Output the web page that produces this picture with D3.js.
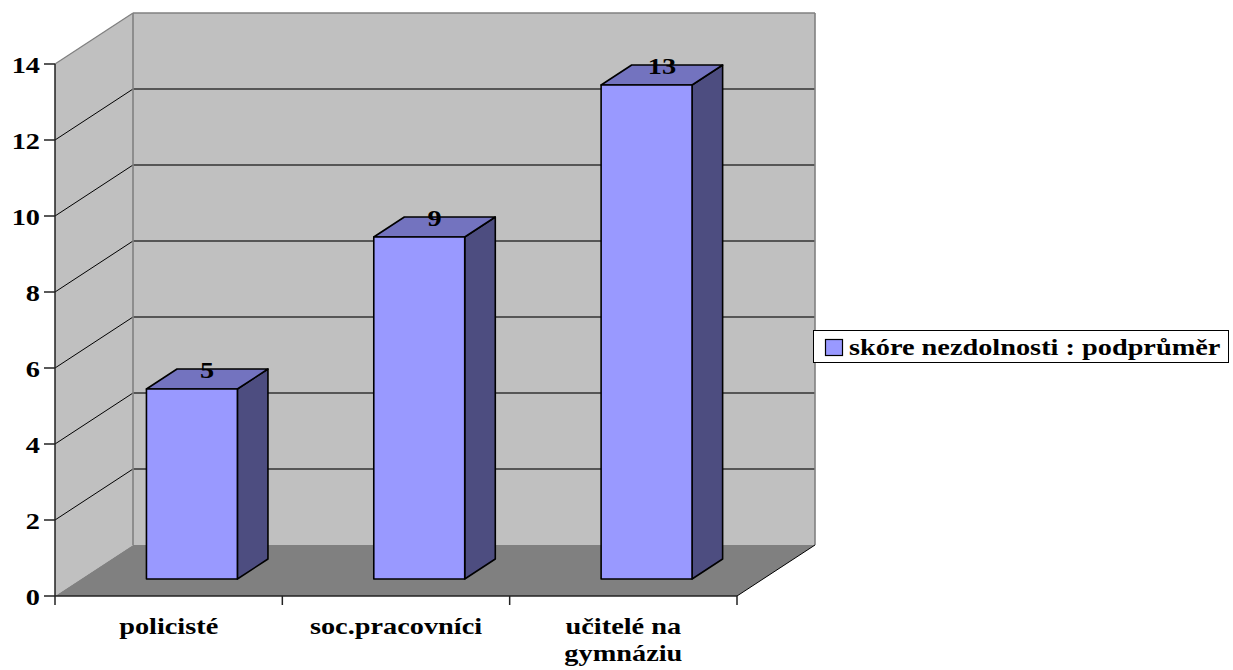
<!DOCTYPE html>
<html>
<head>
<meta charset="utf-8">
<script src="https://cdn.jsdelivr.net/npm/d3@7"></script>
<style>
  html, body { margin: 0; padding: 0; background: #ffffff; }
  svg { display: block; }
</style>
</head>
<body>
<svg id="chart" width="1233" height="670"></svg>
<script>
// Chart data
const categories = ["policisté", "soc.pracovníci", ["učitelé na", "gymnáziu"]];
const categoryKeys = ["policisté", "soc.pracovníci", "učitelé na gymnáziu"];
const values = [5, 9, 13];
const yTicks = [0, 2, 4, 6, 8, 10, 12, 14];
const seriesName = "skóre nezdolnosti : podprůměr";

const svg = d3.select("#chart");

// Plot frame: front plane and depth vector of the 3D box
const plotL = 55, plotR = 737, plotB = 596, plotT = 64;
const DX = 78, DY = 51;
const y = d3.scaleLinear().domain([0, 14]).range([plotB, plotT]);
const x = d3.scaleBand().domain(categoryKeys).range([plotL, plotR]).padding(0);

const proj = (px, v, z) => [px + z * DX, y(v) - z * DY];
const pts = arr => arr.map(p => p.join(",")).join(" ");

const FONT = "'Liberation Serif', 'Times New Roman', Times, serif";
const TEXT_SX = 1.18;
function label(g, tx, ty, str, anchor) {
  g.append("text")
    .attr("transform", `translate(${tx},${ty}) scale(${TEXT_SX},1)`)
    .attr("text-anchor", anchor)
    .attr("font-family", FONT)
    .attr("font-weight", "bold")
    .attr("font-size", 24)
    .attr("fill", "#000")
    .text(str);
}

// Walls and floor
const wallFill = "#c0c0c0", floorFill = "#808080", edge = "#808080";
svg.append("polygon")
  .attr("points", pts([proj(plotL, 14, 0), proj(plotL, 14, 1), proj(plotL, 0, 1), proj(plotL, 0, 0)]))
  .attr("fill", wallFill).attr("stroke", "none");
svg.append("polygon")
  .attr("points", pts([proj(plotL, 14, 1), proj(plotR, 14, 1), proj(plotR, 0, 1), proj(plotL, 0, 1)]))
  .attr("fill", wallFill).attr("stroke", "none");
svg.append("polygon")
  .attr("points", pts([proj(plotL, 0, 0), proj(plotL, 0, 1), proj(plotR, 0, 1), proj(plotR, 0, 0)]))
  .attr("fill", floorFill).attr("stroke", "none");

// Gridlines: back wall horizontals and side wall diagonals
const grid = svg.append("g");
yTicks.filter(t => t > 0 && t < 14).forEach(t => {
  const a = proj(plotL, t, 0), b = proj(plotL, t, 1), c = proj(plotR, t, 1);
  grid.append("line").attr("x1", a[0]).attr("y1", a[1]).attr("x2", b[0]).attr("y2", b[1])
    .attr("stroke", "#000").attr("stroke-width", 1);
  grid.append("line").attr("x1", b[0]).attr("y1", b[1]).attr("x2", c[0]).attr("y2", c[1])
    .attr("stroke", "#333").attr("stroke-width", 1.3);
});

// Wall outlines
const edgeLine = (p, q, col, w) => svg.append("line")
  .attr("x1", p[0]).attr("y1", p[1]).attr("x2", q[0]).attr("y2", q[1])
  .attr("stroke", col).attr("stroke-width", w);
edgeLine(proj(plotL, 14, 0), proj(plotL, 14, 1), edge, 1.3);
edgeLine(proj(plotL, 14, 1), proj(plotR, 14, 1), edge, 1.6);
edgeLine(proj(plotR, 14, 1), proj(plotR, 0, 1), edge, 1.6);
edgeLine(proj(plotL, 14, 1), proj(plotL, 0, 1), edge, 1.6);
edgeLine(proj(plotR, 0, 0), proj(plotR, 0, 1), "#000", 1);

// Bars (3D prisms)
const z0 = 0.333, z1 = 0.725;
const barOffset = 0.288, barFrac = 0.4;
const bars = svg.append("g");
categoryKeys.forEach((c, i) => {
  const v = values[i];
  const x0 = x(c) + x.bandwidth() * barOffset;
  const x1 = x0 + x.bandwidth() * barFrac;
  const fTL = proj(x0, v, z0), fTR = proj(x1, v, z0), fBR = proj(x1, 0, z0), fBL = proj(x0, 0, z0);
  const bTL = proj(x0, v, z1), bTR = proj(x1, v, z1), bBR = proj(x1, 0, z1);
  const g = bars.append("g").attr("stroke", "#000").attr("stroke-width", 1.6).attr("stroke-linejoin", "round");
  g.append("polygon").attr("points", pts([fTR, bTR, bBR, fBR])).attr("fill", "#4d4d80");
  g.append("polygon").attr("points", pts([fTL, bTL, bTR, fTR])).attr("fill", "#7373bf");
  g.append("polygon").attr("points", pts([fTL, fTR, fBR, fBL])).attr("fill", "#9999ff");
  // value label on the top face
  const cx = (fTL[0] + bTR[0]) / 2;
  label(svg, cx, bTL[1] + 9, String(v), "middle");
});

// Value axis
const yAxis = svg.append("g");
yAxis.append("line").attr("x1", plotL).attr("x2", plotL).attr("y1", y(14)).attr("y2", y(0))
  .attr("stroke", "#222").attr("stroke-width", 1.5);
yTicks.forEach(t => {
  yAxis.append("line").attr("x1", plotL - 11).attr("x2", plotL).attr("y1", y(t)).attr("y2", y(t))
    .attr("stroke", "#222").attr("stroke-width", 1.5);
  label(yAxis, plotL - 15, y(t) + 8.5, String(t), "end");
});

// Category axis
const xAxis = svg.append("g");
xAxis.append("line").attr("x1", plotL).attr("x2", plotR).attr("y1", plotB).attr("y2", plotB)
  .attr("stroke", "#222").attr("stroke-width", 1.5);
const bounds = categoryKeys.map(c => x(c)).concat([plotR]);
bounds.forEach(b => {
  xAxis.append("line").attr("x1", b).attr("x2", b).attr("y1", plotB).attr("y2", plotB + 9)
    .attr("stroke", "#222").attr("stroke-width", 1.5);
});
categories.forEach((c, i) => {
  const cx = x(categoryKeys[i]) + x.bandwidth() / 2;
  const lines = Array.isArray(c) ? c : [c];
  lines.forEach((ln, j) => label(xAxis, cx, 634 + j * 27, ln, "middle"));
});

// Legend
const lg = svg.append("g");
lg.append("rect").attr("x", 813.5).attr("y", 330.5).attr("width", 415).attr("height", 32)
  .attr("fill", "#fff").attr("stroke", "#000").attr("stroke-width", 1);
lg.append("rect").attr("x", 825.5).attr("y", 339.5).attr("width", 17).attr("height", 16)
  .attr("fill", "#9999ff").attr("stroke", "#000").attr("stroke-width", 1.2);
label(lg, 849, 355, seriesName, "start");
</script>
</body>
</html>
